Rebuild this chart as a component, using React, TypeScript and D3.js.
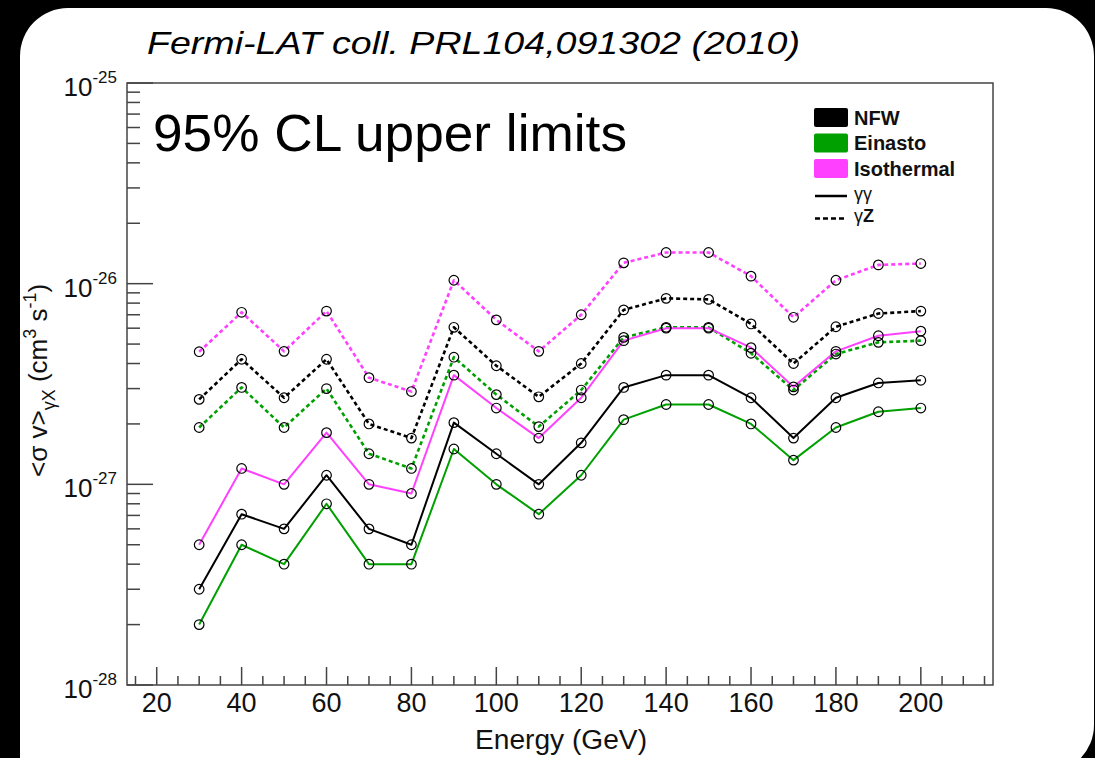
import React from "react";
import * as d3 from "d3";

const energies = [30, 40, 50, 60, 70, 80, 90, 100, 110, 120, 130, 140, 150, 160, 170, 180, 190, 200];

const nfwGG = [3.0e-28, 7.1e-28, 6.0e-28, 1.11e-27, 6.0e-28, 5.0e-28, 2.03e-27, 1.42e-27, 1.0e-27, 1.61e-27, 3.04e-27, 3.5e-27, 3.5e-27, 2.7e-27, 1.7e-27, 2.7e-27, 3.2e-27, 3.3e-27];
const einastoGG = [2.0e-28, 5.0e-28, 4.0e-28, 8.0e-28, 4.0e-28, 4.0e-28, 1.5e-27, 1.0e-27, 7.1e-28, 1.11e-27, 2.1e-27, 2.5e-27, 2.5e-27, 2.0e-27, 1.32e-27, 1.92e-27, 2.3e-27, 2.4e-27];
const isoGG = [5.0e-28, 1.2e-27, 1.0e-27, 1.81e-27, 1.0e-27, 9.0e-28, 3.5e-27, 2.4e-27, 1.7e-27, 2.7e-27, 5.2e-27, 6.0e-27, 6.0e-27, 4.8e-27, 3.06e-27, 4.6e-27, 5.5e-27, 5.8e-27];
const nfwGZ = [2.65e-27, 4.2e-27, 2.7e-27, 4.2e-27, 2.0e-27, 1.7e-27, 6.06e-27, 3.9e-27, 2.73e-27, 4.0e-27, 7.4e-27, 8.45e-27, 8.35e-27, 6.3e-27, 4.0e-27, 6.1e-27, 7.1e-27, 7.3e-27];
const einastoGZ = [1.92e-27, 3.04e-27, 1.92e-27, 3.0e-27, 1.42e-27, 1.2e-27, 4.3e-27, 2.8e-27, 1.94e-27, 2.95e-27, 5.4e-27, 6.06e-27, 6.06e-27, 4.5e-27, 2.95e-27, 4.46e-27, 5.1e-27, 5.2e-27];
const isoGZ = [4.58e-27, 7.2e-27, 4.6e-27, 7.3e-27, 3.4e-27, 2.9e-27, 1.04e-26, 6.6e-27, 4.6e-27, 7.0e-27, 1.27e-26, 1.43e-26, 1.43e-26, 1.09e-26, 6.8e-27, 1.04e-26, 1.24e-26, 1.26e-26];

const xMajorTicks = [20, 40, 60, 80, 100, 120, 140, 160, 180, 200];
const yDecades = [-28, -27, -26, -25];
const legendModels = ["NFW", "Einasto", "Isothermal"];

const W = 1095;
const H = 758;
const M = { left: 127, right: 993, top: 83, bottom: 685 };
const FONT = "'Liberation Sans', Arial, Helvetica, sans-serif";
const BLACK = "#000000";
const GREEN = "#00a000";
const MAGENTA = "#ff40ff";
const AXIS = "#444444";

const series = [
  { values: isoGZ, color: MAGENTA, dashed: true },
  { values: nfwGZ, color: BLACK, dashed: true },
  { values: einastoGZ, color: GREEN, dashed: true },
  { values: isoGG, color: MAGENTA, dashed: false },
  { values: nfwGG, color: BLACK, dashed: false },
  { values: einastoGG, color: GREEN, dashed: false },
];

export default function App() {
  const x = d3.scaleLinear().domain([13, 217]).range([M.left, M.right]);
  const y = d3.scaleLog().domain([1e-28, 1e-25]).range([M.bottom, M.top]);

  const line = d3
    .line<[number, number]>()
    .x((d) => x(d[0]))
    .y((d) => y(d[1]));

  const xMinor = d3.range(15, 216, 5).filter((v) => v % 20 !== 0);
  const yMinor: number[] = [];
  for (let d = -28; d < -25; d++) {
    for (let m = 2; m <= 9; m++) yMinor.push(m * Math.pow(10, d));
  }

  const legendColors = [BLACK, GREEN, MAGENTA];
  const legRowY = [117.5, 143, 168.5, 194, 219.5];

  return (
    <svg
      width={W}
      height={H}
      style={{ position: "absolute", left: 0, top: 0, display: "block" }}
      fontFamily={FONT}
    >
      <rect x={0} y={0} width={W} height={H} fill="#000" />
      <rect x={20} y={8} width={1074} height={765} rx={48} ry={48} fill="#fff" />
      <rect x={20} y={700} width={60} height={70} fill="#fff" />

      {/* title */}
      <text x={147} y={54} fontSize={32} fontStyle="italic" textLength={653} lengthAdjust="spacingAndGlyphs" fill="#000">
        Fermi-LAT coll. PRL104,091302 (2010)
      </text>

      {/* frame */}
      <rect
        x={M.left}
        y={M.top}
        width={M.right - M.left}
        height={M.bottom - M.top}
        fill="none"
        stroke={AXIS}
        strokeWidth={1.5}
      />

      {/* x ticks */}
      {xMajorTicks.map((v) => (
        <g key={"xm" + v}>
          <line x1={x(v)} x2={x(v)} y1={M.bottom} y2={M.bottom - 18} stroke={AXIS} strokeWidth={1.5} />
          <text x={x(v)} y={712} fontSize={27} textAnchor="middle" fill="#111">
            {v}
          </text>
        </g>
      ))}
      {xMinor.map((v) => (
        <line key={"xn" + v} x1={x(v)} x2={x(v)} y1={M.bottom} y2={M.bottom - 9} stroke={AXIS} strokeWidth={1.5} />
      ))}
      <text x={475} y={749} fontSize={27} textLength={172} lengthAdjust="spacingAndGlyphs" fill="#111">
        Energy (GeV)
      </text>

      {/* y ticks */}
      {yDecades.map((d) => {
        const v = Math.pow(10, d);
        return (
          <g key={"yd" + d}>
            <line x1={M.left} x2={M.left + 26} y1={y(v)} y2={y(v)} stroke={AXIS} strokeWidth={1.5} />
            <text x={117} y={y(v) + 13} fontSize={26} textAnchor="end" fill="#111">
              10
              <tspan dy={-13} fontSize={17}>
                {String(d)}
              </tspan>
            </text>
          </g>
        );
      })}
      {yMinor.map((v, i) => (
        <line key={"yn" + i} x1={M.left} x2={M.left + 13} y1={y(v)} y2={y(v)} stroke={AXIS} strokeWidth={1.5} />
      ))}

      {/* y axis title */}
      <text transform="translate(47,477) rotate(-90)" fontSize={26} fill="#111">
        {"<σ v>"}
        <tspan dy={8} fontSize={18}>
          γX
        </tspan>
        <tspan dy={-8}> (cm</tspan>
        <tspan dy={-11} fontSize={18}>
          3
        </tspan>
        <tspan dy={11}> s</tspan>
        <tspan dy={-11} fontSize={18}>
          -1
        </tspan>
        <tspan dy={11}>)</tspan>
      </text>

      {/* big label */}
      <text x={153} y={151} fontSize={52} textLength={474} lengthAdjust="spacingAndGlyphs" fill="#000">
        95% CL upper limits
      </text>

      {/* series */}
      {series.map((s, i) => {
        const pts: [number, number][] = energies.map((e, k) => [e, s.values[k]]);
        return (
          <path
            key={"l" + i}
            d={line(pts) || ""}
            fill="none"
            stroke={s.color}
            strokeWidth={s.dashed ? 2.6 : 2}
            strokeDasharray={s.dashed ? "4,3" : undefined}
            strokeLinejoin="round"
          />
        );
      })}
      {series.map((s, i) =>
        energies.map((e, k) => (
          <circle
            key={"c" + i + "-" + k}
            cx={x(e)}
            cy={y(s.values[k])}
            r={4.8}
            fill="none"
            stroke="#000"
            strokeWidth={1.2}
          />
        ))
      )}

      {/* legend */}
      {legendModels.map((name, i) => (
        <g key={"lg" + name}>
          <rect x={814} y={legRowY[i] - 9.5} width={34} height={19} rx={2} fill={legendColors[i]} />
          <text x={854} y={legRowY[i] + 7} fontSize={20} fontWeight="bold" fill="#111">
            {name}
          </text>
        </g>
      ))}
      <line x1={815} x2={847} y1={legRowY[3] + 2} y2={legRowY[3] + 2} stroke="#000" strokeWidth={2.5} />
      <text x={854} y={legRowY[3] + 6} fontSize={18} fill="#111">
        γγ
      </text>
      <line x1={815} x2={847} y1={legRowY[4] - 1} y2={legRowY[4] - 1} stroke="#000" strokeWidth={2.5} strokeDasharray="5,3" />
      <text x={854} y={legRowY[4] + 2.5} fontSize={18} fill="#111">
        γ<tspan fontWeight="bold">Z</tspan>
      </text>
    </svg>
  );
}
